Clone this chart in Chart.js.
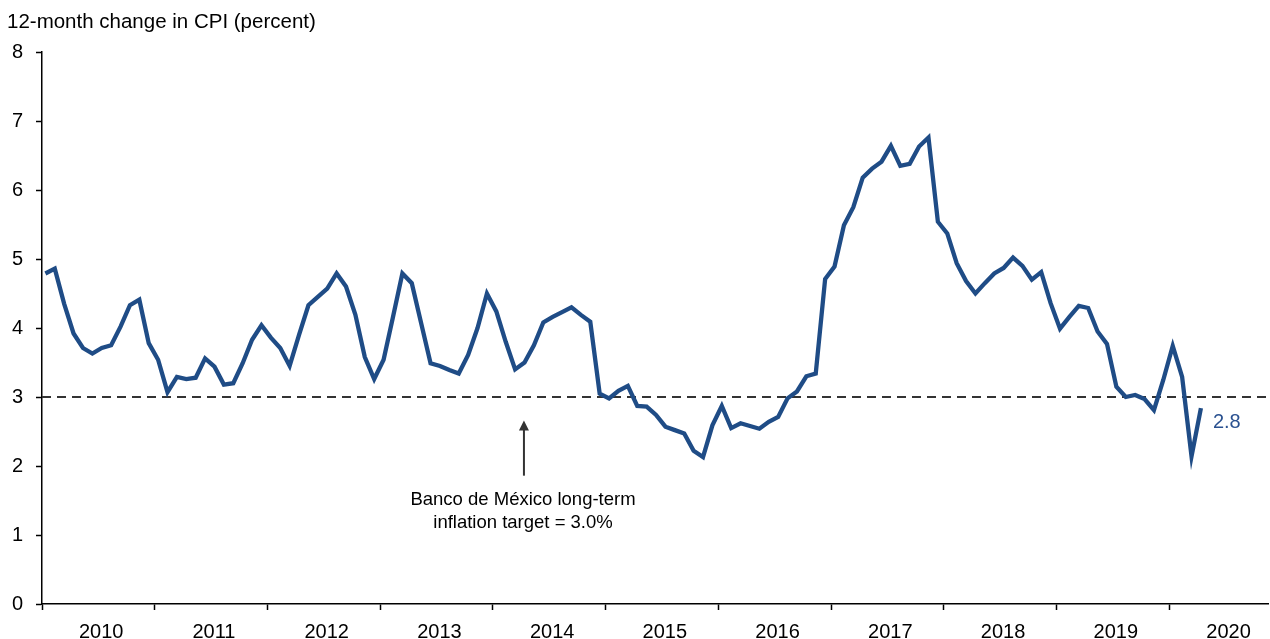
<!DOCTYPE html>
<html>
<head>
<meta charset="utf-8">
<script src="https://cdn.jsdelivr.net/npm/chart.js@4"></script>
<style>
  html, body { margin: 0; padding: 0; background: #fff; }
  #wrap { width: 1270px; height: 639px; position: relative; }
</style>
</head>
<body>
<div id="wrap"><canvas id="c" width="1270" height="639"></canvas></div>
<script>
// ---- Data ----
const years = ['2010','2011','2012','2013','2014','2015','2016','2017','2018','2019','2020'];
const firstMonth = 'Feb 2010';   // series starts in February 2010, monthly
const cpi = [
  // 2010 (Feb-Dec)
  4.79, 4.86, 4.35, 3.92, 3.71, 3.63, 3.71, 3.75, 4.02, 4.33, 4.41,
  // 2011
  3.78, 3.54, 3.07, 3.29, 3.26, 3.28, 3.56, 3.44, 3.18, 3.20, 3.49, 3.83,
  // 2012
  4.04, 3.86, 3.71, 3.45, 3.90, 4.33, 4.45, 4.57, 4.79, 4.60, 4.19, 3.58,
  // 2013
  3.26, 3.54, 4.16, 4.79, 4.65, 4.07, 3.49, 3.45, 3.39, 3.34, 3.61, 4.00,
  // 2014
  4.50, 4.24, 3.80, 3.40, 3.50, 3.75, 4.08, 4.16, 4.23, 4.30, 4.19, 4.09,
  // 2015
  3.05, 2.98, 3.09, 3.16, 2.87, 2.86, 2.74, 2.57, 2.52, 2.47, 2.22, 2.13,
  // 2016
  2.59, 2.87, 2.55, 2.62, 2.58, 2.54, 2.64, 2.71, 2.98, 3.08, 3.30, 3.34,
  // 2017
  4.71, 4.89, 5.49, 5.75, 6.18, 6.31, 6.41, 6.64, 6.35, 6.38, 6.63, 6.76,
  // 2018
  5.54, 5.37, 4.94, 4.68, 4.50, 4.65, 4.79, 4.87, 5.02, 4.90, 4.70, 4.81,
  // 2019
  4.36, 3.99, 4.16, 4.32, 4.29, 3.95, 3.77, 3.15, 3.00, 3.03, 2.97, 2.81,
  // 2020 (Jan-May)
  3.25, 3.74, 3.29, 2.14, 2.84
];
const targetValue = 3.0;
const yTicks = [0,1,2,3,4,5,6,7,8];
const titleText = '12-month change in CPI (percent)';
const noteLines = ['Banco de México long-term', 'inflation target = 3.0%'];
const lastLabel = '2.8';

// ---- Build month axis (months since Jan 2010) ----
const startIndex = 1;          // February 2010
const monthOffset = -0.64;     // plotting offset of a month within its slot
const axisMax = 130.5;
const linePoints = cpi.map((v, k) => ({ x: startIndex + k + monthOffset, y: v }));

const boundaryTicks = years.map((y, i) => i * 12);
const labelTicks = years.map((y, i) => i * 12 + 6.3);

const blue = '#1f4c86';
const dark = '#333333';
const FONT = "'Liberation Sans', Arial, sans-serif";

const overlay = {
  id: 'overlay',
  afterDraw(chart) {
    const ctx = chart.ctx;
    const xs = chart.scales.x, ys = chart.scales.y;
    ctx.save();
    // title
    ctx.fillStyle = '#000';
    ctx.font = '20.5px ' + FONT;
    ctx.textAlign = 'left';
    ctx.textBaseline = 'alphabetic';
    ctx.fillText(titleText, 7, 28);

    // arrow pointing to target line
    const ax = xs.getPixelForValue(51.3);
    const aTop = ys.getPixelForValue(2.66);
    const aBot = ys.getPixelForValue(1.86);
    ctx.strokeStyle = dark;
    ctx.fillStyle = dark;
    ctx.lineWidth = 2;
    ctx.beginPath();
    ctx.moveTo(ax, aBot);
    ctx.lineTo(ax, aTop + 7);
    ctx.stroke();
    ctx.beginPath();
    ctx.moveTo(ax, aTop);
    ctx.lineTo(ax - 5, aTop + 10);
    ctx.lineTo(ax + 5, aTop + 10);
    ctx.closePath();
    ctx.fill();

    // note text
    ctx.fillStyle = '#000';
    ctx.font = '18.5px ' + FONT;
    ctx.textAlign = 'center';
    ctx.textBaseline = 'middle';
    const nx = xs.getPixelForValue(51.2);
    ctx.fillText(noteLines[0], nx, ys.getPixelForValue(1.51));
    ctx.fillText(noteLines[1], nx, ys.getPixelForValue(1.18));

    // last value label
    const last = linePoints[linePoints.length - 1];
    ctx.fillStyle = '#2a5190';
    ctx.font = '20px ' + FONT;
    ctx.textAlign = 'left';
    ctx.fillText(lastLabel, xs.getPixelForValue(last.x) + 12, ys.getPixelForValue(2.63));
    ctx.restore();
  }
};

new Chart(document.getElementById('c'), {
  type: 'line',
  data: {
    datasets: [
      {
        label: 'CPI',
        data: linePoints,
        borderColor: blue,
        borderWidth: 4.3,
        pointRadius: 0,
        tension: 0,
        fill: false
      },
      {
        label: 'Target',
        data: [{ x: 0, y: targetValue }, { x: axisMax, y: targetValue }],
        borderColor: dark,
        borderWidth: 2,
        borderDash: [9, 6],
        pointRadius: 0,
        fill: false
      }
    ]
  },
  options: {
    responsive: false,
    animation: false,
    devicePixelRatio: 1,
    layout: { padding: { top: 52, right: 2, left: 0, bottom: 0 } },
    plugins: { legend: { display: false }, tooltip: { enabled: false } },
    scales: {
      x: {
        type: 'linear',
        min: 0,
        max: axisMax,
        afterBuildTicks(scale) {
          const t = [];
          boundaryTicks.forEach(v => t.push({ value: v }));
          labelTicks.forEach(v => t.push({ value: v }));
          t.sort((a, b) => a.value - b.value);
          scale.ticks = t;
        },
        afterFit(scale) { scale.height = 35; },
        ticks: {
          autoSkip: false,
          maxRotation: 0,
          padding: 10,
          color: '#000',
          font: { family: FONT, size: 20 },
          callback(value) {
            const i = labelTicks.findIndex(v => Math.abs(v - value) < 1e-6);
            return i >= 0 ? years[i] : '';
          }
        },
        grid: {
          drawOnChartArea: false,
          drawTicks: true,
          tickLength: 6,
          tickWidth: 1.5,
          tickColor(ctx) {
            const v = ctx.tick ? ctx.tick.value : null;
            return boundaryTicks.includes(v) ? '#000' : 'rgba(0,0,0,0)';
          }
        },
        border: { display: true, color: '#000', width: 1.5 }
      },
      y: {
        type: 'linear',
        min: 0,
        max: 8,
        afterBuildTicks(scale) { scale.ticks = yTicks.map(v => ({ value: v })); },
        afterFit(scale) { scale.width = 42; },
        ticks: {
          padding: 13,
          color: '#000',
          font: { family: FONT, size: 20 }
        },
        grid: {
          drawOnChartArea: false,
          drawTicks: true,
          tickLength: 6,
          tickWidth: 1.5,
          tickColor: '#000'
        },
        border: { display: true, color: '#000', width: 1.5 }
      }
    }
  },
  plugins: [overlay]
});
</script>
</body>
</html>
